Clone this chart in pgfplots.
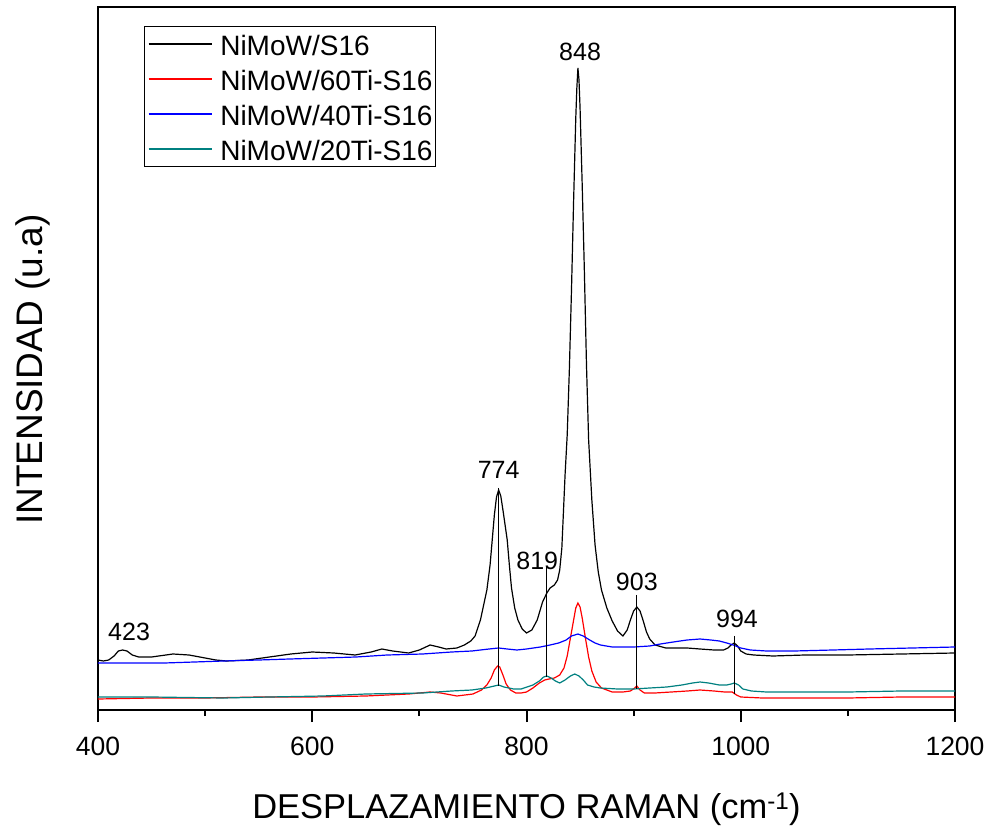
\documentclass[border=0pt]{standalone}
\usepackage{fontspec}
\setmainfont{Liberation Sans}
\usepackage{pgfplots}
\pgfplotsset{compat=1.18}
\definecolor{tealline}{RGB}{0,128,128}

\begin{document}
\begin{tikzpicture}
\useasboundingbox (-98bp,-117bp) rectangle (892bp,710bp);
\begin{axis}[
  scale only axis,
  width=857bp, height=703bp,
  xmin=400, xmax=1200, ymin=0, ymax=703,
  axis line style={line width=2.5bp},
  xtick={400,600,800,1000,1200},
  xticklabels={400,600,800,1000,1200},
  minor xtick={500,700,900,1100},
  ytick=\empty,
  tick pos=left,
  tick align=outside,
  major tick length=12bp, minor tick length=6bp,
  every tick/.style={line width=2bp, black},
  xticklabel style={font=\fontsize{26.5bp}{30bp}\selectfont, inner sep=0pt, yshift=-15bp},
  xlabel={DESPLAZAMIENTO RAMAN (cm\textsuperscript{-1})},
  ylabel={INTENSIDAD (u.a)},
  xlabel style={font=\fontsize{34.5bp}{40bp}\selectfont, at={(axis description cs:0.5,0)}, anchor=base, yshift=-108bp, inner sep=0pt},
  ylabel style={font=\fontsize{37bp}{42bp}\selectfont, at={(axis description cs:0,0.484)}, anchor=base, yshift=55bp, inner sep=0pt},
  legend cell align=left,
  legend style={at={(rel axis cs:0.0537,0.973)}, anchor=north west,
    draw=black, line width=1bp, inner xsep=3.5bp, inner ysep=0bp,
    font=\fontsize{28bp}{34bp}\selectfont, row sep=0pt, column sep=8bp,
    nodes={inner sep=0pt, text height=29bp, text depth=6bp}},
  legend image code/.code={\draw[#1, line width=1.3bp] (1.5bp,0bp) -- (64.5bp,0bp);},
  clip=false,
]

% NiMoW/S16
\addplot[black, line width=1.2bp] table {
400 50
405 49
410 50
415 54
419 59
423 60
427 59
432 55
438 53
450 53
470 56
485 55
500 52
510 50
520 49
540 50
560 53
580 56
600 58
620 57
640 55
655 58
665 61
675 59
690 57
700 60
710 65
718 63
725 61
735 62
742 65
748 69
752 74
757 90
760 105
763 120
766 145
768 170
770 195
772 213
774 220
776 214
778 200
780 185
782 170
784 145
786 122
789 102
792 90
796 81
800 77
805 80
810 90
815 108
819 117
822 122
826 125
829 130
831 140
833 162
836 235
838 275
840 340
842 420
844 510
846 592
847 622
848 642
849 630
850 602
852 525
854 440
856 345
858 270
861 210
864 165
867 138
870 120
875 102
880 89
885 79
890 74
894 80
897 90
900 99
903 103
906 99
909 89
912 78
915 71
920 65
930 62
940 62
950 62
962 61
975 60
984 60
988 62
991 65
994 67
997 64
1000 59
1005 56
1012 55
1030 54
1060 55
1100 55
1150 56
1200 57
};
\addlegendentry{NiMoW/S16}

% NiMoW/60Ti-S16
\addplot[red, line width=1.2bp] table {
400 11
450 12
500 12
550 13
600 13
650 14
690 16
710 18
720 17
735 14
750 16
758 20
763 25
767 32
770 40
773 44
775 43
778 35
781 26
785 20
790 17
795 17
800 18
806 22
812 27
817 30
821 31
826 32
831 35
835 42
838 54
841 72
844 90
846 102
848 107
850 103
852 92
855 72
858 53
861 39
865 28
870 22
880 18
890 18
897 19
901 22
903 24
906 20
910 17
920 17
935 18
950 19
962 20
975 19
985 18
992 18
996 15
1000 13
1020 12
1100 12
1150 13
1200 13
};
\addlegendentry{NiMoW/60Ti-S16}

% NiMoW/40Ti-S16
\addplot[blue, line width=1.2bp] table {
400 47
430 47
462 47
490 48
517 49
550 50
579 51
610 52
641 53
670 55
703 56
730 58
749 59
765 61
774 62
782 61
791 60
800 61
813 63
822 65
830 67
837 70
842 74
848 76
853 74
859 70
864 67
869 65
880 63
900 63
915 64
925 66
937 68
950 70
962 71
972 70
980 69
987 67
993 65
1000 62
1009 60
1024 59
1050 59
1086 60
1120 61
1160 62
1200 63
};
\addlegendentry{NiMoW/40Ti-S16}

% NiMoW/20Ti-S16
\addplot[tealline, line width=1.2bp] table {
400 13
450 13
517 12
560 13
610 14
650 16
703 17
730 19
749 20
762 22
770 24
774 25
779 23
788 21
795 21
806 25
812 29
816 33
819 34
823 32
827 29
831 27
836 30
841 34
845 36
849 34
853 30
857 25
863 23
869 22
885 21
900 21
915 22
931 23
945 25
955 27
962 28
970 27
980 25
987 25
991 26
994 27
998 25
1002 21
1010 19
1024 18
1060 18
1100 18
1150 19
1200 19
};
\addlegendentry{NiMoW/20Ti-S16}

% peak markers
\addplot[black, line width=1bp, forget plot] coordinates {(774,222) (774,24)};
\addplot[black, line width=1bp, forget plot] coordinates {(819,143) (819,33)};
\addplot[black, line width=1bp, forget plot] coordinates {(903,115) (903,21)};
\addplot[black, line width=1bp, forget plot] coordinates {(994,74) (994,16)};

% peak positions
\begin{scope}[every node/.style={font=\fontsize{25bp}{30bp}\selectfont, inner sep=0pt, anchor=center}]
\node at (axis cs:429,78) {423};
\node at (axis cs:774,240) {774};
\node at (axis cs:810,149) {819};
\node at (axis cs:850,658) {848};
\node at (axis cs:903,128) {903};
\node at (axis cs:996.5,91) {994};
\end{scope}
\end{axis}
\end{tikzpicture}
\end{document}
